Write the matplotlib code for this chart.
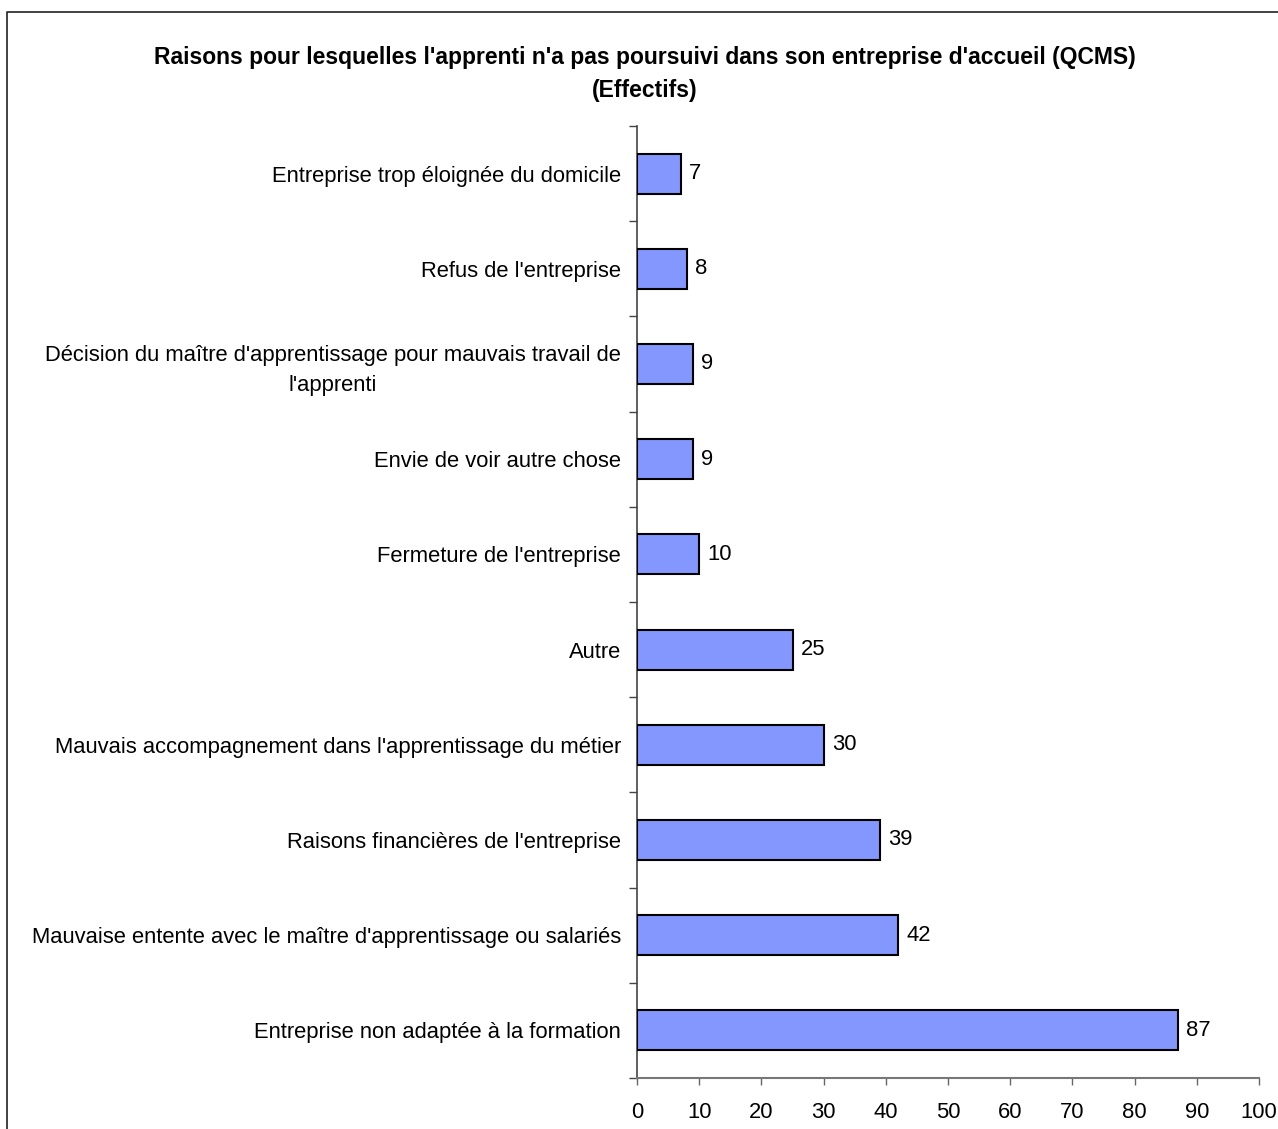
import matplotlib
matplotlib.use("Agg")
import matplotlib.pyplot as plt
from matplotlib.lines import Line2D
import numpy as np

# data, top to bottom as shown
reasons = [
    "Entreprise trop éloignée du domicile",
    "Refus de l'entreprise",
    "Décision du maître d'apprentissage pour mauvais travail de\nl'apprenti",
    "Envie de voir autre chose",
    "Fermeture de l'entreprise",
    "Autre",
    "Mauvais accompagnement dans l'apprentissage du métier",
    "Raisons financières de l'entreprise",
    "Mauvaise entente avec le maître d'apprentissage ou salariés",
    "Entreprise non adaptée à la formation",
]
counts = [7, 8, 9, 9, 10, 25, 30, 39, 42, 87]
xticks = [0, 10, 20, 30, 40, 50, 60, 70, 80, 90, 100]

title = ("Raisons pour lesquelles l'apprenti n'a pas poursuivi dans son entreprise d'accueil (QCMS)\n"
         "(Effectifs)")

plt.rcParams["font.family"] = ["Liberation Sans", "DejaVu Sans"]

W, H = 1278, 1129
fig = plt.figure(figsize=(W / 100, H / 100), dpi=100)
ax = fig.add_axes([637 / W, 1 - 1078 / H, (1259 - 637) / W, (1078 - 126) / H])

y = np.arange(len(reasons))
bars = ax.barh(y, counts, height=0.42, color="#8397FF", edgecolor="black", linewidth=1.5, zorder=3)
ax.bar_label(bars, labels=[str(c) for c in counts], padding=6, fontsize=15.8)

ax.set_ylim(len(reasons) - 0.5, -0.5)
ax.set_xlim(0, 100)

ax.set_yticks(y)
ax.set_yticklabels(reasons, fontsize=15.8, multialignment="center", linespacing=1.55)
ax.set_yticks(np.arange(len(reasons) + 1) - 0.5, minor=True)
ax.tick_params(axis="y", which="major", length=0, pad=11.5)
ax.tick_params(axis="y", which="minor", length=5.5, width=1, color="#444444")

ax.set_xticks(xticks)
ax.set_xticklabels([str(t) for t in xticks], fontsize=15.8)
ax.tick_params(axis="x", length=5, width=1, color="#666666", pad=12)

for s in ["top", "right"]:
    ax.spines[s].set_visible(False)
ax.spines["left"].set_color("#444444")
ax.spines["bottom"].set_color("#777777")
ax.spines["left"].set_linewidth(1.2)
ax.spines["bottom"].set_linewidth(1.5)

fig.text(645 / W, 1 - 74 / H, title, ha="center", va="center", fontsize=16.5,
         fontweight="bold", linespacing=1.55)

# outer frame (left and top edges only visible)
fig.add_artist(Line2D([7 / W, 7 / W, 1.0], [0, 1 - 12 / H, 1 - 12 / H],
                      transform=fig.transFigure, color="#222222", linewidth=1.2))

fig.savefig("out.png", dpi=100)
